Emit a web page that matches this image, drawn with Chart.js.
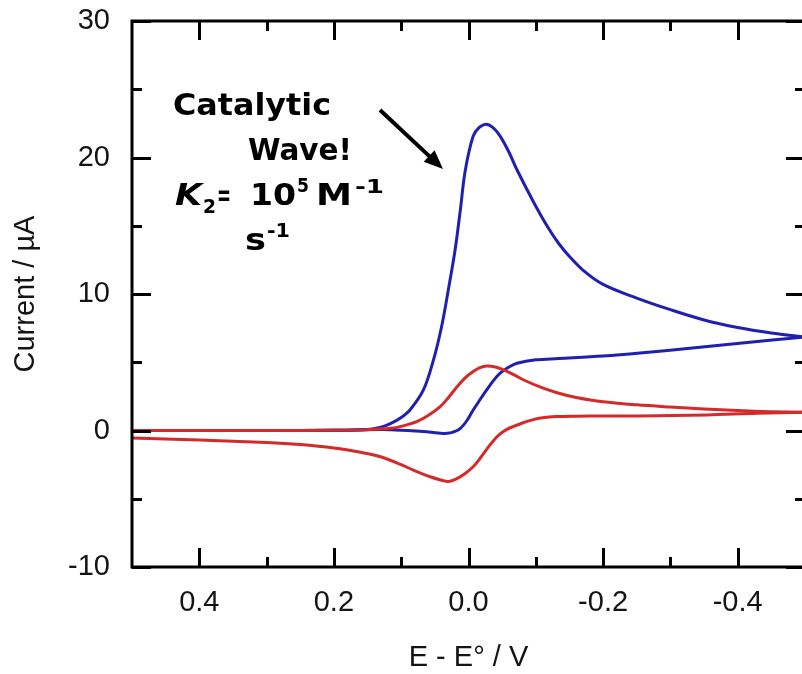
<!DOCTYPE html>
<html><head><meta charset="utf-8">
<script src="https://cdn.jsdelivr.net/npm/chart.js@4"></script>
<style>
html,body{margin:0;padding:0;overflow:hidden;background:#fff;width:802px;height:674px}
#wrap{position:relative;width:802px;height:674px;overflow:hidden}
canvas{display:block}
</style></head>
<body><div id="wrap"><canvas id="c" width="808" height="674"></canvas></div>
<script>
// Axis ticks
const xTicks = [0.4, 0.2, 0.0, -0.2, -0.4];
const xMinorTicks = [0.3, 0.1, -0.1, -0.3];
const yTicks = [-10, 0, 10, 20, 30];
const yMinorTicks = [-5, 5, 15, 25];

// Blue (catalytic) CV: forward sweep (toward negative E) and return sweep
const blueFwdE = [0.5, 0.3, 0.2, 0.15, 0.13, 0.116, 0.1, 0.087, 0.067, 0.052, 0.04, 0.03, 0.02, 0.012, 0.005, -0.007, -0.016, -0.026, -0.036, -0.047, -0.06, -0.072, -0.097, -0.117, -0.134, -0.15, -0.17, -0.2, -0.25, -0.3, -0.35, -0.4, -0.45, -0.5];
const blueFwdI = [0, 0, 0.02, 0.08, 0.25, 0.5, 0.95, 1.5, 2.97, 5.18, 7.6, 10.3, 13.2, 16.2, 19.0, 21.57, 22.2, 22.43, 22.2, 21.57, 20.4, 19.1, 16.7, 14.96, 13.7, 12.75, 11.75, 10.7, 9.7, 8.85, 8.1, 7.55, 7.15, 6.85];
const blueRevE = [0.5, 0.3, 0.2, 0.116, 0.067, 0.045, 0.032, 0.022, 0.012, 0.002, -0.007, -0.017, -0.027, -0.037, -0.047, -0.06, -0.072, -0.1, -0.134, -0.2, -0.255, -0.329, -0.403, -0.5];
const blueRevI = [0, 0, 0.02, 0.06, -0.08, -0.18, -0.21, -0.1, 0.16, 0.75, 1.5, 2.25, 2.97, 3.65, 4.2, 4.65, 4.93, 5.18, 5.27, 5.45, 5.67, 6.03, 6.4, 6.85];

// Red (no catalysis) CV
const redFwdE = [0.5, 0.3, 0.2, 0.15, 0.116, 0.1, 0.077, 0.06, 0.042, 0.03, 0.017, 0.005, -0.007, -0.017, -0.027, -0.04, -0.052, -0.067, -0.082, -0.111, -0.134, -0.16, -0.2, -0.25, -0.3, -0.35, -0.4, -0.45, -0.5];
const redFwdI = [0, 0, 0.02, 0.06, 0.16, 0.3, 0.65, 1.1, 1.75, 2.4, 3.2, 3.85, 4.32, 4.6, 4.73, 4.65, 4.44, 4.1, 3.7, 3.1, 2.73, 2.42, 2.1, 1.88, 1.72, 1.58, 1.46, 1.38, 1.33];
const redRevE = [0.5, 0.4, 0.3, 0.25, 0.2, 0.16, 0.131, 0.1, 0.082, 0.057, 0.04, 0.03, 0.018, 0.005, -0.007, -0.017, -0.027, -0.037, -0.047, -0.057, -0.067, -0.08, -0.095, -0.11, -0.13, -0.16, -0.2, -0.255, -0.354, -0.429, -0.5];
const redRevI = [-0.55, -0.7, -0.88, -1.03, -1.28, -1.6, -1.92, -2.5, -2.9, -3.39, -3.64, -3.74, -3.55, -3.15, -2.66, -2.05, -1.38, -0.75, -0.25, 0.08, 0.3, 0.55, 0.78, 0.93, 1.02, 1.05, 1.06, 1.06, 1.14, 1.26, 1.33];

const BLUE = '#1f1fb2';
const RED = '#d42a2a';
const pts = (E, I) => E.map((e, i) => ({x: e, y: I[i]}));
const lineDs = (E, I, color) => ({
  data: pts(E, I), showLine: true, borderColor: color, backgroundColor: color,
  borderWidth: 3, pointRadius: 0, tension: 0.35, fill: false
});

const TXT = '#141414';
const FONT = "'Liberation Sans', Arial, sans-serif";

const frameTicks = {
  id: 'frameTicks',
  afterDraw(chart) {
    const {ctx, chartArea: a, scales: {x, y}} = chart;
    ctx.save();
    ctx.strokeStyle = '#000';
    ctx.lineWidth = 3;
    ctx.lineCap = 'butt';
    ctx.beginPath();
    const vx = (vals, len) => vals.forEach(v => {
      const p = Math.round(x.getPixelForValue(v)) + 0.5;
      ctx.moveTo(p, a.bottom); ctx.lineTo(p, a.bottom - len);
      ctx.moveTo(p, a.top); ctx.lineTo(p, a.top + len);
    });
    const vy = (vals, len) => vals.forEach(v => {
      const p = Math.round(y.getPixelForValue(v)) + 0.5;
      ctx.moveTo(a.left, p); ctx.lineTo(a.left + len, p);
      ctx.moveTo(a.right, p); ctx.lineTo(a.right - len, p);
    });
    vx(xTicks, 19); vx(xMinorTicks, 10);
    vy(yTicks, 19); vy(yMinorTicks, 10);
    ctx.stroke();
    ctx.strokeRect(a.left, a.top, a.right - a.left, a.bottom - a.top);

    // annotation
    ctx.fillStyle = '#000';
    ctx.textBaseline = 'alphabetic';
    ctx.textAlign = 'left';
    const big = "bold 31px 'DejaVu Sans', sans-serif";
    const small = "bold 20px 'DejaVu Sans', sans-serif";
    const fitText = (t, x0, base, w, font) => {
      ctx.font = font;
      const m = ctx.measureText(t).width;
      ctx.save();
      ctx.translate(x0, base);
      ctx.scale(w / m, 1);
      ctx.fillText(t, 0, 0);
      ctx.restore();
    };
    fitText('Catalytic', 173, 115, 158, big);
    fitText('Wave!', 248, 160, 104, big);
    fitText('K', 175, 205, 27, "italic bold 31px 'DejaVu Sans', sans-serif");
    fitText('2', 203, 213, 13, small);
    fitText('=', 217, 205, 14, big);
    fitText('10', 250, 205, 46, big);
    fitText('5', 297, 192, 12, small);
    fitText('M', 316, 205, 36, big);
    fitText('-1', 355, 193, 29, small);
    fitText('s', 245, 250, 21, big);
    fitText('-1', 267, 237, 23, small);

    // arrow
    const x1 = 380, y1 = 110, x2 = 443, y2 = 169;
    const ang = Math.atan2(y2 - y1, x2 - x1);
    const hl = 19, hw = 8;
    ctx.lineWidth = 4;
    ctx.beginPath();
    ctx.moveTo(x1, y1);
    ctx.lineTo(x2 - (hl - 2) * Math.cos(ang), y2 - (hl - 2) * Math.sin(ang));
    ctx.stroke();
    ctx.beginPath();
    ctx.moveTo(x2, y2);
    const bx = x2 - hl * Math.cos(ang), by = y2 - hl * Math.sin(ang);
    ctx.lineTo(bx + hw * Math.sin(ang), by - hw * Math.cos(ang));
    ctx.lineTo(bx - hw * Math.sin(ang), by + hw * Math.cos(ang));
    ctx.closePath();
    ctx.fill();
    ctx.restore();
  }
};

const noPad = s => { s.paddingTop = 0; s.paddingBottom = 0; s.paddingLeft = 0; s.paddingRight = 0; };

new Chart(document.getElementById('c'), {
  type: 'scatter',
  data: {
    datasets: [
      lineDs(redFwdE, redFwdI, RED),
      lineDs(redRevE, redRevI, RED),
      lineDs(blueFwdE, blueFwdI, BLUE),
      lineDs(blueRevE, blueRevI, BLUE)
    ]
  },
  options: {
    responsive: false,
    animation: false,
    layout: {padding: {top: 21, right: 3, left: 0, bottom: 0}},
    plugins: {legend: {display: false}, tooltip: {enabled: false}},
    scales: {
      x: {
        type: 'linear', reverse: true, min: -0.5, max: 0.5,
        afterBuildTicks: s => { s.ticks = xTicks.map(v => ({value: v})); },
        afterFit: s => { s.height = 107; noPad(s); },
        grid: {display: false, drawTicks: false},
        border: {display: false},
        ticks: {
          padding: 19, color: TXT, font: {family: FONT, size: 29},
          callback: v => (Math.abs(v) < 1e-9 ? '0.0' : Number(v).toFixed(1))
        },
        title: {display: true, text: 'E - E° / V', color: TXT,
          font: {family: FONT, size: 29, lineHeight: 1}, padding: {top: 0, bottom: 2}}
      },
      y: {
        type: 'linear', min: -10, max: 30,
        afterBuildTicks: s => { s.ticks = yTicks.map(v => ({value: v})); },
        afterFit: s => { s.width = 132; noPad(s); },
        grid: {display: false, drawTicks: false},
        border: {display: false},
        ticks: {
          padding: 22, color: TXT, font: {family: FONT, size: 29},
          callback: v => String(v)
        },
        title: {display: true, text: 'Current / µA', color: TXT,
          font: {family: FONT, size: 29, lineHeight: 1}, padding: {top: 11, bottom: 0}}
      }
    }
  },
  plugins: [frameTicks]
});
</script>
</body></html>
